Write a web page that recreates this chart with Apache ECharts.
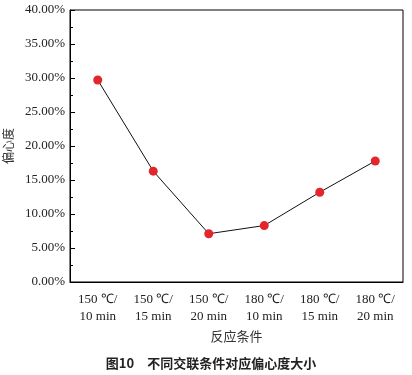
<!DOCTYPE html>
<html><head><meta charset="utf-8">
<script src="https://cdn.jsdelivr.net/npm/echarts@6/dist/echarts.min.js"></script>
<style>html,body{margin:0;padding:0;background:#fff}#c{width:412px;height:375px}</style>
</head><body><div id="c"></div>
<script>
var categories = ['150 \u2103/\n10 min','150 \u2103/\n15 min','150 \u2103/\n20 min','180 \u2103/\n10 min','180 \u2103/\n15 min','180 \u2103/\n20 min'];
var eccentricity = [29.7, 16.3, 7.1, 8.3, 13.2, 17.8];
var yTicks = {min: 0, max: 40, interval: 5};
var serif = '"Liberation Serif","Times New Roman",serif';
var cjk = '"Noto Sans CJK SC",sans-serif';
var chart = echarts.init(document.getElementById('c'), null, {renderer:'canvas'});
chart.setOption({
  animation: false,
  title: {text: '图10　不同交联条件对应偏心度大小', left: 206, textAlign: 'center', top: 352,
    textStyle: {fontFamily: cjk, fontSize: 13, fontWeight: 'bold', color: '#222'}},
  grid: {left: 70, right: 9, top: 10, bottom: 93, show: true, borderColor: '#000', borderWidth: 1, backgroundColor: 'transparent',
    containLabel: false, outerBoundsMode: 'none'},
  xAxis: {type: 'category', data: categories, boundaryGap: true,
    name: '反应条件', nameLocation: 'middle', nameGap: 46,
    nameTextStyle: {fontFamily: cjk, fontSize: 13, color: '#333'},
    axisLine: {lineStyle: {color: '#000', width: 1}},
    axisTick: {inside: true, alignWithLabel: true, length: 5, lineStyle: {color: '#000'}},
    axisLabel: {fontFamily: serif, fontSize: 13, color: '#222', lineHeight: 17, margin: 9, interval: 0},
    splitLine: {show: false}},
  yAxis: {type: 'value', min: yTicks.min, max: yTicks.max, interval: yTicks.interval,
    name: '偏心度', nameLocation: 'middle', nameGap: 51, nameRotate: 90,
    nameTextStyle: {fontFamily: cjk, fontSize: 12, color: '#333'},
    axisLine: {show: true, lineStyle: {color: '#000', width: 1}},
    axisTick: {show: true, inside: true, length: 5, lineStyle: {color: '#000'}},
    minorTick: {show: true, splitNumber: 2, length: 3, lineStyle: {color: '#000'}},
    axisLabel: {fontFamily: serif, fontSize: 13, color: '#222', margin: 5,
      formatter: function(v){return v.toFixed(2) + '%';}},
    splitLine: {show: false}},
  series: [{type: 'line', data: eccentricity, symbol: 'circle', symbolSize: 9,
    itemStyle: {color: '#e3262b'}, lineStyle: {color: '#111', width: 1}}]
});
</script></body></html>
